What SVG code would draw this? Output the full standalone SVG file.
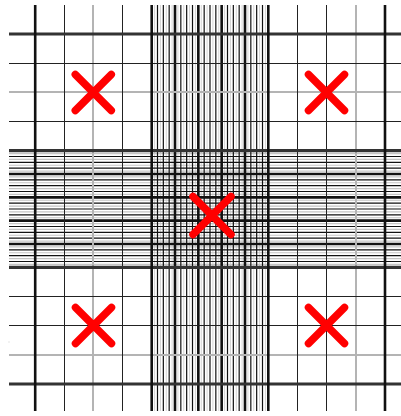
<svg xmlns="http://www.w3.org/2000/svg" width="401" height="416" viewBox="0 0 401 416">
<style>
.bg{fill:#fff}
.thick{stroke:#111;stroke-width:2.6;fill:none}
.thickh{stroke:#333;stroke-width:3.2;fill:none}
.dark{stroke:#222;stroke-width:1;fill:none}
.gray{stroke:#b4b4b4;stroke-width:2;fill:none}
.sd{stroke:#111;stroke-width:1.2;fill:none}
.sgv{stroke:#d4d4d4;stroke-width:1;fill:none}
.sgh{stroke:#c4c4c4;stroke-width:1.2;fill:none}
.mark{stroke:#ff0000;stroke-width:7.5;stroke-linecap:round;fill:none}
</style>
<rect class="bg" x="0" y="0" width="401" height="416"/>
<g id="grid-dense">
<path class="sgv" d="M154.58 5V411M160.42 5V411M166.25 5V411M172.08 5V411M177.92 5V411M183.75 5V411M189.58 5V411M195.42 5V411M201.25 5V411M207.08 5V411M212.92 5V411M218.75 5V411M224.58 5V411M230.42 5V411M236.25 5V411M242.08 5V411M247.92 5V411M253.75 5V411M259.58 5V411M265.42 5V411"/>
<path class="sgh" d="M9 153.58H401M9 159.42H401M9 165.25H401M9 171.08H401M9 176.92H401M9 182.75H401M9 188.58H401M9 194.42H401M9 200.25H401M9 206.08H401M9 211.92H401M9 217.75H401M9 223.58H401M9 229.42H401M9 235.25H401M9 241.08H401M9 246.92H401M9 252.75H401M9 258.58H401M9 264.42H401"/>
<path class="sd" d="M157.5 5V411M163.33 5V411M169.17 5V411M180.83 5V411M186.67 5V411M192.5 5V411M204.17 5V411M210 5V411M215.83 5V411M227.5 5V411M233.33 5V411M239.17 5V411M250.83 5V411M256.67 5V411M262.5 5V411"/>
<path class="sd" d="M9 156.5H401M9 162.33H401M9 168.17H401M9 179.83H401M9 185.67H401M9 191.5H401M9 203.17H401M9 209H401M9 214.83H401M9 226.5H401M9 232.33H401M9 238.17H401M9 249.83H401M9 255.67H401M9 261.5H401"/>
<path class="thick" d="M175 5V411M198.33 5V411M221.67 5V411M245 5V411"/>
<path class="thick" d="M9 174H401M9 197.33H401M9 220.67H401M9 244H401"/>
</g>
<g id="grid-main">
<path class="gray" d="M93 5V411M356 5V411"/>
<path class="gray" d="M9 92H401M9 355H401"/>
<path class="dark" d="M64.5 5V411M122.5 5V411M297.5 5V411M326.5 5V411"/>
<path class="dark" d="M9 63.5H401M9 121.5H401M9 296.5H401M9 325.5H401"/>
<path class="thickh" d="M9 34H401M9 150.7H401M9 267.3H401M9 384H401"/>
<path class="thick" d="M35.2 5V411M151.7 5V411M268.3 5V411M385 5V411"/>
</g>
<rect x="8.5" y="341.5" width="1" height="1" fill="#ccc"/>
<g id="marks">
<path id="x-top-left" class="mark" d="M75.3 74.5L111.3 110.5M111.3 74.5L75.3 110.5"/>
<path id="x-top-right" class="mark" d="M308.5 74.5L344.5 110.5M344.5 74.5L308.5 110.5"/>
<path id="x-center" class="mark" d="M193 196.5L231 234.5M231 196.5L193 234.5"/>
<path id="x-bottom-left" class="mark" d="M75.5 307.5L111.5 343.5M111.5 307.5L75.5 343.5"/>
<path id="x-bottom-right" class="mark" d="M308.5 307.5L344.5 343.5M344.5 307.5L308.5 343.5"/>
</g>
</svg>
